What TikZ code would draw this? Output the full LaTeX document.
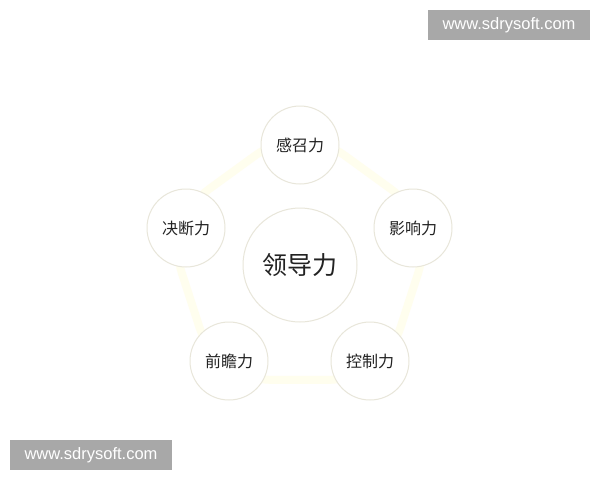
\documentclass[tikz,border=0pt]{standalone}
\usepackage{fontspec}
\setmainfont{Liberation Sans}
\newfontfamily\cjk{Noto Sans CJK SC}
\usetikzlibrary{calc}
\definecolor{ring}{HTML}{E8E6DA}
\definecolor{penta}{HTML}{FFFEEE}
\definecolor{wm}{HTML}{A8A8A8}
\definecolor{txt}{HTML}{222222}
\tikzset{
  small/.style={circle, draw=ring, line width=1pt, fill=white, minimum size=78pt, inner sep=0pt, font=\cjk\fontsize{16}{16}\selectfont, text=txt},
  big/.style={circle, draw=ring, line width=1pt, fill=white, minimum size=114pt, inner sep=0pt, font=\cjk\fontsize{25}{25}\selectfont, text=txt},
  wmbox/.style={fill=wm, text=white, minimum width=162pt, minimum height=30pt, inner sep=0pt, font=\fontsize{16.5}{16.5}\selectfont}
}
\begin{document}
\begin{tikzpicture}[x=1pt,y=-1pt]
\useasboundingbox (0,0) rectangle (600,480);
\fill[white] (0,0) rectangle (600,480);
% faint pentagon
\draw[penta, line width=8pt, rounded corners=55pt]
  ($(300,265)+(90:-142)$) coordinate (p0)
  -- ($(300,265)+(162:-142)$)
  -- ($(300,265)+(234:-142)$)
  -- ($(300,265)+(306:-142)$)
  -- ($(300,265)+(18:-142)$)
  -- cycle;
\node[big] (c) at (300,265) {领导力};
\node[small] (n1) at (300,145) {感召力};
\node[small] (n2) at (413,228) {影响力};
\node[small] (n3) at (370,361) {控制力};
\node[small] (n4) at (229,361) {前瞻力};
\node[small] (n5) at (186,228) {决断力};
\node[wmbox] (w1) at (509,25) {www.sdrysoft.com};
\node[wmbox] (w2) at (91,455) {www.sdrysoft.com};
\end{tikzpicture}
\end{document}
